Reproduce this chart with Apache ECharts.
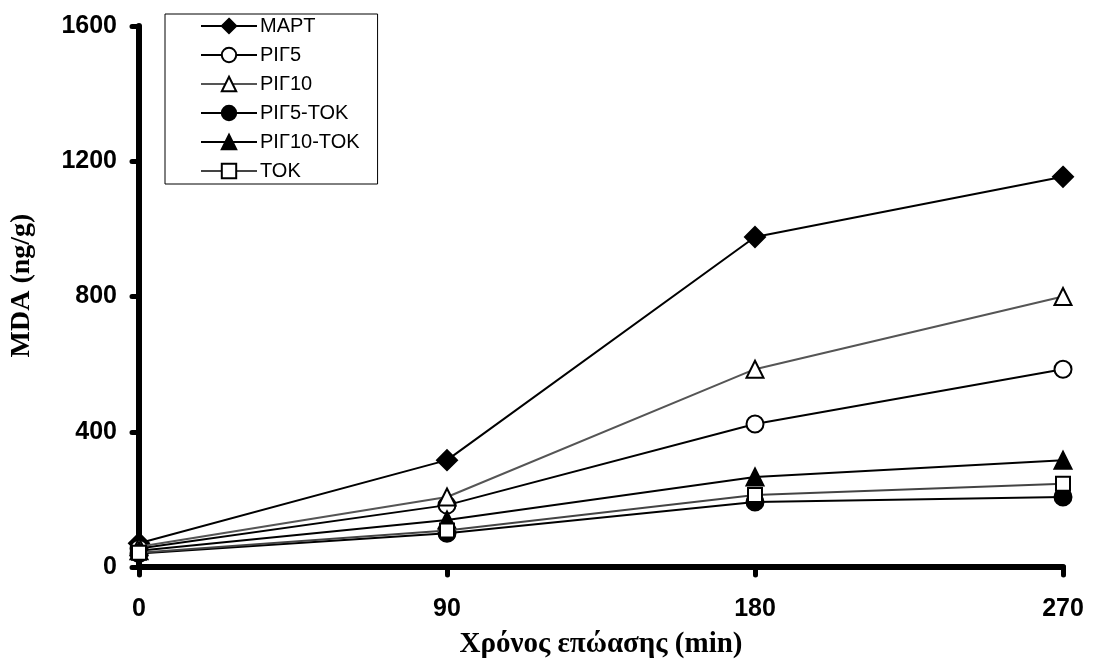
<!DOCTYPE html>
<html>
<head>
<meta charset="utf-8">
<script src="https://cdn.jsdelivr.net/npm/echarts@6/dist/echarts.min.js"></script>
<style>html,body{margin:0;padding:0;background:#fff;}#c{width:1093px;height:664px;}</style>
</head>
<body>
<div id="c"></div>
<script>
const times = [0, 90, 180, 270];
const seriesNames = ['ΜΑΡΤ', 'ΡΙΓ5', 'ΡΙΓ10', 'ΡΙΓ5-ΤΟΚ', 'ΡΙΓ10-ΤΟΚ', 'ΤΟΚ'];
const mart = [70, 316, 976, 1154];
const rig5 = [55, 183, 423, 585];
const rig10 = [60, 207, 585, 800];
const rig5tok = [40, 100, 192, 207];
const rig10tok = [48, 139, 266, 316];
const tok = [42, 108, 213, 246];
const yTicks = [0, 400, 800, 1200, 1600];

const values = [mart, rig5, rig10, rig5tok, rig10tok, tok];
const styles = [
  {symbol: 'diamond', size: 20, fill: '#000', line: '#000'},
  {symbol: 'circle', size: 17, fill: '#fff', line: '#000'},
  {symbol: 'triangle', size: 17, fill: '#fff', line: '#555'},
  {symbol: 'circle', size: 17, fill: '#000', line: '#000'},
  {symbol: 'triangle', size: 17, fill: '#000', line: '#000'},
  {symbol: 'rect', size: 14, fill: '#fff', line: '#444'}
];

const series = seriesNames.map((n, i) => ({
  name: n,
  type: 'line',
  data: times.map((t, j) => [t, values[i][j]]),
  symbol: styles[i].symbol,
  symbolSize: styles[i].size,
  showAllSymbol: true,
  lineStyle: {color: styles[i].line, width: 2},
  itemStyle: {color: styles[i].fill, borderColor: '#000', borderWidth: 2},
  emphasis: {disabled: true},
  z: 2 + i
}));

const chart = echarts.init(document.getElementById('c'), null, {renderer: 'canvas'});
chart.setOption({
  animation: false,
  backgroundColor: '#fff',
  grid: {left: 139, right: 30, top: 26, bottom: 92, containLabel: false},
  legend: {
    orient: 'vertical',
    left: 165, top: 14,
    padding: [2, 18, 3, 35],
    itemWidth: 56, itemHeight: 18, itemGap: 9,
    borderColor: '#000', borderWidth: 1, borderRadius: 0,
    backgroundColor: '#fff',
    textStyle: {fontFamily: 'Liberation Sans', fontSize: 20, color: '#000', padding: [0, 0, 0, -2]},
    data: seriesNames
  },
  xAxis: {
    type: 'value', min: 0, max: 270, interval: 90,
    name: 'Χρόνος επώασης (min)', nameLocation: 'middle', nameGap: 63,
    nameTextStyle: {fontFamily: 'Liberation Serif', fontWeight: 'bold', fontSize: 29, color: '#000'},
    axisLine: {show: true, lineStyle: {color: '#000', width: 6, cap: 'round'}},
    axisTick: {show: true, length: 8, lineStyle: {color: '#000', width: 5, cap: 'round'}},
    axisLabel: {fontFamily: 'Liberation Sans', fontWeight: 'bold', fontSize: 25, color: '#000', margin: 30},
    splitLine: {show: false}
  },
  yAxis: {
    type: 'value', min: 0, max: 1600, interval: 400,
    name: 'MDA (ng/g)', nameLocation: 'middle', nameGap: 103,
    nameTextStyle: {fontFamily: 'Liberation Serif', fontWeight: 'bold', fontSize: 28, color: '#000', padding: [0, 0, 0, 22]},
    axisLine: {show: true, lineStyle: {color: '#000', width: 6, cap: 'round'}},
    axisTick: {show: true, length: 7, lineStyle: {color: '#000', width: 5, cap: 'round'}},
    axisLabel: {fontFamily: 'Liberation Sans', fontWeight: 'bold', fontSize: 25, color: '#000', margin: 22,
      formatter: v => yTicks.includes(v) ? String(v) : ''},
    splitLine: {show: false}
  },
  series: series
});
</script>
</body>
</html>
